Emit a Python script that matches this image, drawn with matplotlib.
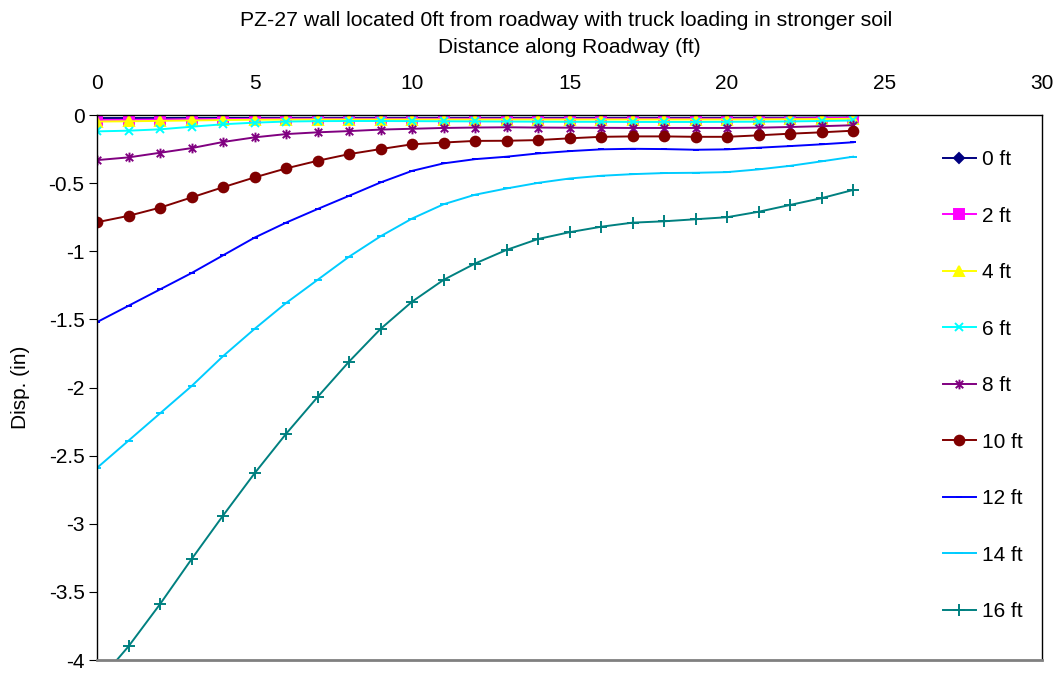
import matplotlib
matplotlib.use('Agg')
import matplotlib.pyplot as plt
from matplotlib.path import Path
import numpy as np

plt.rcParams['font.family'] = ['Liberation Sans', 'DejaVu Sans']

# distance along roadway (ft)
dist = list(range(25))

# displacement (in) for each depth below grade
disp_0 = [-0.022, -0.022, -0.022, -0.021, -0.021, -0.021, -0.021, -0.021, -0.021, -0.021,
          -0.021, -0.021, -0.021, -0.021, -0.021, -0.021, -0.021, -0.021, -0.021, -0.021,
          -0.021, -0.020, -0.020, -0.019, -0.018]
disp_2 = [-0.036, -0.035, -0.033, -0.031, -0.029, -0.028, -0.027, -0.027, -0.027, -0.027,
          -0.027, -0.027, -0.027, -0.027, -0.027, -0.027, -0.027, -0.027, -0.027, -0.027,
          -0.027, -0.026, -0.025, -0.023, -0.021]
disp_4 = [-0.048, -0.046, -0.043, -0.040, -0.037, -0.035, -0.034, -0.033, -0.033, -0.033,
          -0.033, -0.033, -0.033, -0.033, -0.033, -0.033, -0.033, -0.033, -0.033, -0.033,
          -0.033, -0.032, -0.031, -0.030, -0.028]
disp_6 = [-0.120, -0.115, -0.105, -0.086, -0.068, -0.056, -0.048, -0.045, -0.044, -0.044,
          -0.045, -0.046, -0.047, -0.048, -0.049, -0.050, -0.050, -0.051, -0.051, -0.051,
          -0.050, -0.049, -0.047, -0.044, -0.040]
disp_8 = [-0.331, -0.311, -0.277, -0.243, -0.198, -0.164, -0.140, -0.127, -0.118, -0.107,
          -0.101, -0.095, -0.092, -0.090, -0.092, -0.093, -0.094, -0.095, -0.095, -0.095,
          -0.095, -0.093, -0.088, -0.082, -0.075]
disp_10 = [-0.787, -0.740, -0.680, -0.605, -0.530, -0.458, -0.392, -0.336, -0.287, -0.250,
           -0.215, -0.202, -0.190, -0.189, -0.184, -0.171, -0.160, -0.157, -0.157, -0.160,
           -0.160, -0.149, -0.137, -0.127, -0.115]
disp_12 = [-1.52, -1.40, -1.28, -1.16, -1.03, -0.90, -0.79, -0.69, -0.593, -0.495,
           -0.410, -0.355, -0.324, -0.306, -0.282, -0.265, -0.252, -0.248, -0.250, -0.255,
           -0.252, -0.240, -0.228, -0.215, -0.200]
disp_14 = [-2.59, -2.39, -2.19, -1.99, -1.77, -1.57, -1.38, -1.21, -1.04, -0.89,
           -0.76, -0.655, -0.585, -0.539, -0.498, -0.466, -0.446, -0.434, -0.426, -0.424,
           -0.419, -0.399, -0.373, -0.340, -0.306]
disp_16 = [-4.17, -3.90, -3.59, -3.26, -2.94, -2.63, -2.34, -2.07, -1.81, -1.57,
           -1.37, -1.21, -1.09, -0.99, -0.91, -0.86, -0.82, -0.79, -0.78, -0.765,
           -0.75, -0.71, -0.66, -0.61, -0.55]

labels = ['0 ft', '2 ft', '4 ft', '6 ft', '8 ft', '10 ft', '12 ft', '14 ft', '16 ft']
series = [disp_0, disp_2, disp_4, disp_6, disp_8, disp_10, disp_12, disp_14, disp_16]

# excel style asterisk: an x with a vertical bar through it
star = Path([(-1, -1), (1, 1), (-1, 1), (1, -1), (0, -1.3), (0, 1.3)],
            [Path.MOVETO, Path.LINETO, Path.MOVETO, Path.LINETO, Path.MOVETO, Path.LINETO])

# (color, marker, markersize)
styles = [
    ('#000080', 'D', 5),
    ('#FF00FF', 's', 6.5),
    ('#FFFF00', '^', 7),
    ('#00FFFF', 'x', 6),
    ('#800080', star, 7),
    ('#800000', 'o', 7),
    ('#0000FF', '_', 5),
    ('#00CCFF', '_', 6),
    ('#008080', '+', 8),
]

fig = plt.figure(figsize=(10.59, 6.73), dpi=100)
ax = fig.add_axes([0.0916, 0.0193, 0.8925, 0.8098])

for data, label, (color, marker, ms) in zip(series, labels, styles):
    ax.plot(dist, data, color=color, linewidth=1.4, marker=marker, markersize=ms,
            markeredgewidth=1.4, label=label)

ax.set_xlim(0, 30)
ax.set_ylim(-4, 0)
ax.set_xticks(np.arange(0, 31, 5))
ax.set_yticks(np.arange(-4, 0.01, 0.5))
ax.set_yticklabels(['-4', '-3.5', '-3', '-2.5', '-2', '-1.5', '-1', '-0.5', '0'])

ax.xaxis.tick_top()
ax.xaxis.set_label_position('top')
ax.tick_params(axis='x', length=0, labelsize=15, pad=16)
ax.tick_params(axis='y', direction='out', length=6, labelsize=15, pad=3)

for side in ['top', 'left', 'right']:
    ax.spines[side].set_color('black')
    ax.spines[side].set_linewidth(1.0)
ax.spines['bottom'].set_color('#808080')
ax.spines['bottom'].set_linewidth(2.0)

ax.set_xlabel('Distance along Roadway (ft)', fontsize=15, labelpad=15)
ax.set_ylabel('Disp. (in)', fontsize=15, labelpad=13)
fig.text(0.535, 0.970, 'PZ-27 wall located 0ft from roadway with truck loading in stronger soil',
         ha='center', va='center', fontsize=15.3)

ax.legend(loc='upper left', bbox_to_anchor=(0.875, 0.97), frameon=False, fontsize=15,
          labelspacing=1.8, handlelength=1.6, handletextpad=0.3)

fig.savefig('out.png', dpi=100)
plt.close(fig)
